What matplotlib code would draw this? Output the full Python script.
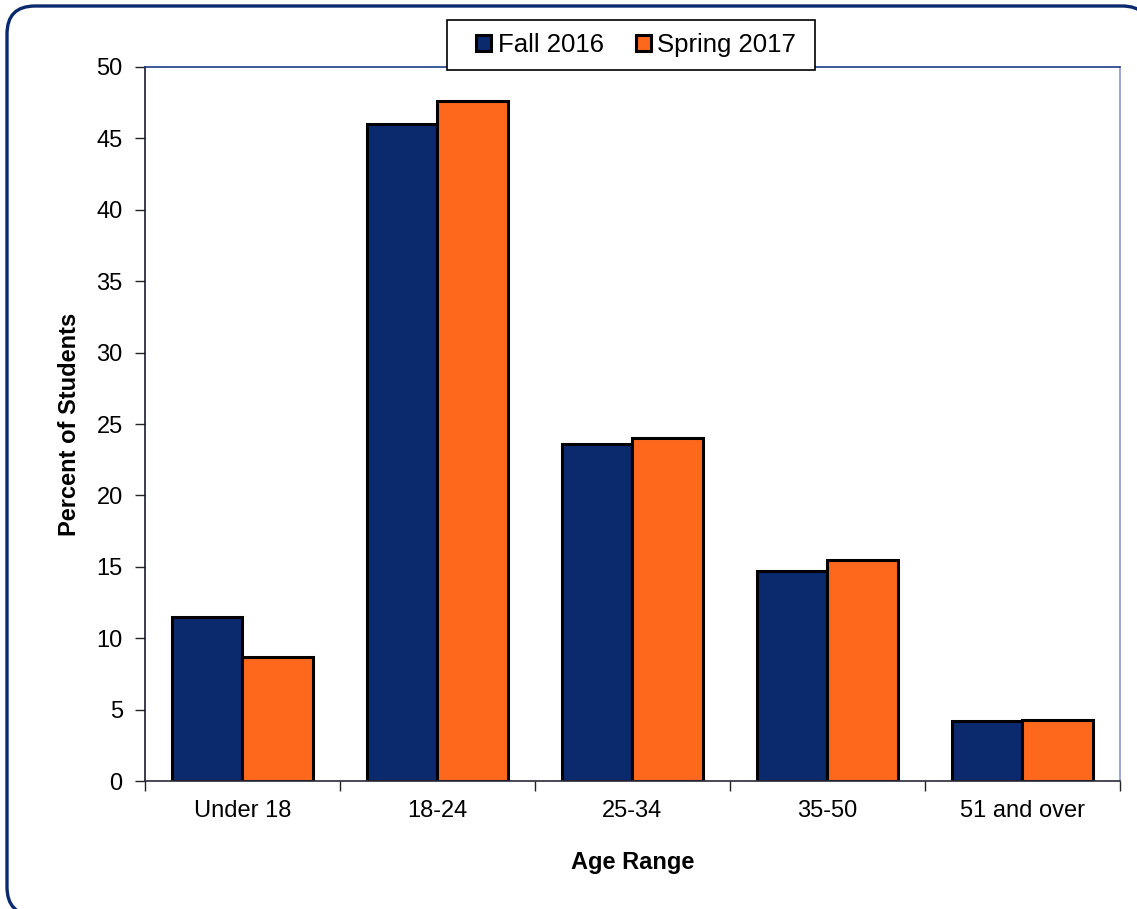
import matplotlib.pyplot as plt
import numpy as np
from matplotlib.patches import FancyBboxPatch, Rectangle, Polygon

plt.rcParams['font.family'] = ['Liberation Sans', 'DejaVu Sans']

# data
age_ranges = ["Under 18", "18-24", "25-34", "35-50", "51 and over"]
fall_2016 = [11.5, 46.0, 23.6, 14.7, 4.2]
spring_2017 = [8.7, 47.6, 24.0, 15.5, 4.3]

navy = "#0b2a6d"
orange = "#fd681c"

fig = plt.figure(figsize=(11.37, 9.09), dpi=100)
ax = fig.add_axes([0.1275, 0.1408, 0.8575, 0.7855])

x = np.arange(len(age_ranges))
w = 0.36
ax.bar(x - w / 2, fall_2016, w, color=navy, edgecolor="black", linewidth=2.2, label="Fall 2016")
ax.bar(x + w / 2, spring_2017, w, color=orange, edgecolor="black", linewidth=2.2, label="Spring 2017")

ax.set_xlim(-0.5, len(age_ranges) - 0.5)
ax.set_ylim(0, 50)
ax.set_yticks(np.arange(0, 51, 5))
ax.set_xticks(x)
ax.set_xticklabels(age_ranges)
ax.set_xticks(np.arange(-0.5, len(age_ranges)), minor=True)
ax.tick_params(axis="x", which="major", length=0, labelsize=17, pad=14)
ax.tick_params(axis="x", which="minor", length=7, width=1, direction="out", color="#222222")
ax.tick_params(axis="y", length=7, width=1, labelsize=17, pad=9, color="#222222")

ax.set_xlabel("Age Range", fontsize=17, fontweight="bold", labelpad=20.5)
ax.set_ylabel("Percent of Students", fontsize=17, fontweight="bold", labelpad=11.5)

ax.spines["left"].set_color("#1a1a2e")
ax.spines["bottom"].set_color("#2a2a3a")
ax.spines["top"].set_color("#1f3c88")
ax.spines["right"].set_color("#8a9ad0")
for s in ax.spines.values():
    s.set_linewidth(1.2)

# legend box drawn separately (pixel coordinates) so padding matches
legend_box = Rectangle((447, 909 - 70), 368, 50, transform=None, facecolor="white",
                       edgecolor="black", linewidth=1.2, zorder=4)
fig.patches.append(legend_box)
fig.legend(loc="center", bbox_to_anchor=(636 / 1137, 1 - 45 / 909), ncol=2,
           fontsize=18.5, frameon=False, handlelength=0.6, handleheight=0.6,
           handletextpad=0.25, columnspacing=1.25, borderpad=0.3)

# rounded outer border (pixel coordinates), runs off the right and bottom edges;
# flattened to a polygon to avoid curve clipping artefacts at the canvas edge
rounded = FancyBboxPatch((7, -6), 1143, 909, boxstyle="round,pad=0,rounding_size=28")
outline = rounded.get_path().to_polygons(closed_only=True)[0]
border = Polygon(outline, closed=True, transform=None, fill=False,
                 edgecolor=navy, linewidth=2.4)
fig.patches.append(border)

fig.savefig("out.png", dpi=100)
